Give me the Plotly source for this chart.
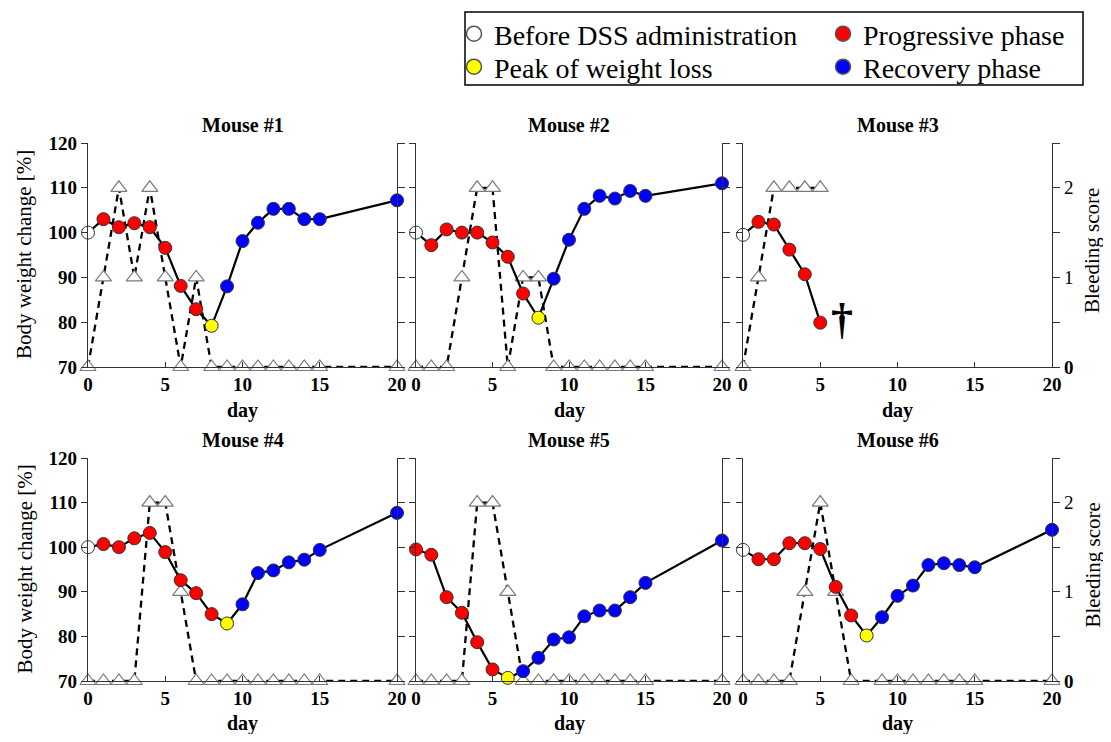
import plotly.graph_objects as go

# ---------------- data ----------------
titles = ["Mouse #1", "Mouse #2", "Mouse #3", "Mouse #4", "Mouse #5", "Mouse #6"]

days_full = list(range(16)) + [20]

weight_days = [days_full, days_full, [0, 1, 2, 3, 4, 5], days_full, days_full, days_full]
weights = [
    [100, 103.0, 101.2, 102.1, 101.2, 96.6, 88.1, 82.9, 79.2, 88.0, 98.1, 102.2, 105.3, 105.3, 103.0, 103.0, 107.2],
    [100, 97.2, 100.7, 100.0, 100.0, 97.8, 94.6, 86.4, 81.0, 89.7, 98.4, 105.3, 108.2, 107.6, 109.3, 108.2, 111.0],
    [99.5, 102.4, 101.8, 96.2, 90.7, 79.9],
    [100, 100.7, 100.0, 102.0, 103.2, 98.9, 92.6, 89.7, 85.0, 82.9, 87.2, 94.2, 94.8, 96.6, 97.2, 99.4, 107.7],
    [99.5, 98.3, 88.8, 85.3, 78.7, 72.6, 70.7, 72.2, 75.2, 79.3, 79.8, 84.5, 85.8, 85.8, 88.8, 92.0, 101.5],
    [99.4, 97.3, 97.3, 100.9, 100.9, 99.6, 91.1, 84.7, 80.2, 84.3, 89.1, 91.4, 96.0, 96.4, 96.0, 95.5, 103.9],
]
# B = before DSS, P = progressive, Y = peak of weight loss, R = recovery
phases = [
    "BPPPPPPPYRRRRRRRR",
    "BPPPPPPPYRRRRRRRR",
    "BPPPPP",
    "BPPPPPPPPYRRRRRRR",
    "PPPPPPYRRRRRRRRRR",
    "BPPPPPPPYRRRRRRRR",
]

bleed_days = [days_full, days_full, [0, 1, 2, 3, 4, 5], days_full, days_full,
              [0, 1, 2, 3, 4, 5, 6, 7, 9, 10, 11, 12, 13, 14, 15, 20]]
bleed_scores = [
    [0, 1, 2, 1, 2, 1, 0, 1, 0, 0, 0, 0, 0, 0, 0, 0, 0],
    [0, 0, 0, 1, 2, 2, 0, 1, 1, 0, 0, 0, 0, 0, 0, 0, 0],
    [0, 1, 2, 2, 2, 2],
    [0, 0, 0, 0, 2, 2, 1, 0, 0, 0, 0, 0, 0, 0, 0, 0, 0],
    [0, 0, 0, 0, 2, 2, 1, 0, 0, 0, 0, 0, 0, 0, 0, 0, 0],
    [0, 0, 0, 0, 1, 2, 1, 0, 0, 0, 0, 0, 0, 0, 0, 0],
]

phase_names = {"B": "Before DSS administration", "P": "Progressive phase",
               "Y": "Peak of weight loss", "R": "Recovery phase"}
phase_colors = {"B": "#ffffff", "P": "#ff0000", "Y": "#ffff00", "R": "#0000ff"}

x_ticks = [0, 5, 10, 15, 20]
w_ticks = [70, 80, 90, 100, 110, 120]
b_ticks = [0, 0.5, 1, 1.5, 2, 2.5]
b_ticktext = ["<b>0</b>", "", "1", "", "2", ""]

# ---------------- layout geometry ----------------
# the page body has an 8px margin on every side; size the figure so that no scrollbar appears
OFF = 8
W, H = 1111 - 2 * OFF, 742 - 2 * OFF
cols = [(88, 397), (416, 722), (743, 1052)]
rows = [(143, 367), (458, 681)]
day_label_y = [410, 723]
SERIF = "Liberation Serif"
AX = "#333333"


def px(x):
    return (x - OFF) / W


def py(y):
    return 1 - (y - OFF) / H


fig = go.Figure()
layout = dict(
    template="none",
    width=W, height=H, margin=dict(l=0, r=0, t=0, b=0, autoexpand=False),
    paper_bgcolor="white", plot_bgcolor="rgba(0,0,0,0)",
    font=dict(family=SERIF, color="black"),
    showlegend=True,
)
annotations = []

for i in range(6):
    r, c = divmod(i, 3)
    n = i + 1
    nb = n            # bleeding axis (primary, right)
    nw = n + 6        # weight axis (overlay, left)
    xa = "x" if n == 1 else f"x{n}"
    yb = "y" if nb == 1 else f"y{nb}"
    yw = f"y{nw}"
    x0, x1 = cols[c]
    yt, ybot = rows[r]

    layout["xaxis" if n == 1 else f"xaxis{n}"] = dict(
        domain=[px(x0), px(x1)], range=[0, 20], anchor=yb, automargin=False,
        tickvals=x_ticks, ticks="inside", ticklen=5, tickcolor=AX,
        showline=True, linecolor=AX, linewidth=1.3, showgrid=False, zeroline=False,
        tickfont=dict(family=SERIF, size=19, weight="bold", color="black"),
    )
    layout["yaxis" if nb == 1 else f"yaxis{nb}"] = dict(
        domain=[py(ybot), py(yt)], range=[0, 2.5], anchor=xa, side="right", automargin=False,
        tickvals=b_ticks, ticktext=b_ticktext, ticks="outside", ticklen=7, tickcolor=AX,
        showticklabels=(c == 2), showline=True, linecolor=AX, linewidth=1.3,
        showgrid=False, zeroline=False,
        tickfont=dict(family=SERIF, size=19, color="black"),
    )
    layout[f"yaxis{nw}"] = dict(
        range=[70, 120], anchor=xa, overlaying=yb, side="left", automargin=False,
        tickvals=w_ticks, ticks="outside", ticklen=6, tickcolor=AX,
        showticklabels=(c == 0), showline=True, linecolor=AX, linewidth=1.3,
        showgrid=False, zeroline=False,
        tickfont=dict(family=SERIF, size=19, weight="bold", color="black"),
    )

    # bleeding score (dashed, triangles)
    fig.add_trace(go.Scatter(
        x=bleed_days[i], y=bleed_scores[i], xaxis=xa, yaxis=yb,
        mode="lines+markers", showlegend=False, cliponaxis=False,
        line=dict(color="black", width=2.3, dash="7px,5px"),
        marker=dict(symbol="triangle-up", size=14, color="white",
                    line=dict(color="#7a7a7a", width=1.2)),
    ))
    # body weight (solid, coloured circles)
    fig.add_trace(go.Scatter(
        x=weight_days[i], y=weights[i], xaxis=xa, yaxis=yw,
        mode="lines+markers", showlegend=False, cliponaxis=False,
        line=dict(color="black", width=2.2),
        marker=dict(symbol="circle", size=13,
                    color=[phase_colors[p] for p in phases[i]],
                    line=dict(color="#333333", width=1)),
    ))

    cx = (x0 + x1) / 2
    annotations.append(dict(text=f"<b>{titles[i]}</b>", x=px(cx), y=py(yt - 18),
                            xref="paper", yref="paper", showarrow=False,
                            xanchor="center", yanchor="middle",
                            font=dict(family=SERIF, size=20, color="black")))
    annotations.append(dict(text="<b>day</b>", x=px(cx), y=py(day_label_y[r]),
                            xref="paper", yref="paper", showarrow=False,
                            xanchor="center", yanchor="middle",
                            font=dict(family=SERIF, size=20, color="black")))
    if c == 0:
        annotations.append(dict(text="Body weight change [%]", x=px(24), y=py((yt + ybot) / 2),
                                xref="paper", yref="paper", showarrow=False, textangle=-90,
                                xanchor="center", yanchor="middle",
                                font=dict(family=SERIF, size=21, color="black")))
    if c == 2:
        annotations.append(dict(text="Bleeding score", x=px(1092), y=py((yt + ybot) / 2 - 4),
                                xref="paper", yref="paper", showarrow=False, textangle=-90,
                                xanchor="center", yanchor="middle",
                                font=dict(family=SERIF, size=21, color="black")))

# dagger for mouse #3
annotations.append(dict(text="<b>†</b>", x=6.4, y=80.5, xref="x3", yref="y9", showarrow=False,
                        xanchor="center", yanchor="middle",
                        font=dict(family=SERIF, size=44, color="black")))

# legend entries: one legend per entry so that rows/columns sit exactly
legend_font = dict(family=SERIF, size=28, color="black")
legend_pos = {"B": ("legend", 454, 34), "P": ("legend2", 823, 34),
              "Y": ("legend3", 454, 67), "R": ("legend4", 823, 67)}
for key in ["B", "P", "Y", "R"]:
    leg, lx, ly = legend_pos[key]
    fig.add_trace(go.Scatter(
        x=[None], y=[None], mode="markers", name=phase_names[key], legend=leg,
        marker=dict(symbol="circle", size=15, color=phase_colors[key],
                    line=dict(color="#555555", width=1.5)),
    ))
    layout[leg] = dict(x=px(lx), y=py(ly), xanchor="left", yanchor="middle",
                       bgcolor="rgba(0,0,0,0)", borderwidth=0, font=legend_font,
                       itemclick=False, itemdoubleclick=False)

layout["shapes"] = [dict(type="rect", xref="paper", yref="paper",
                         x0=px(465), x1=px(1083), y0=py(85), y1=py(12),
                         line=dict(color="black", width=1.5))]
layout["annotations"] = annotations

fig.update_layout(**layout)
fig.write_html("out.html")
